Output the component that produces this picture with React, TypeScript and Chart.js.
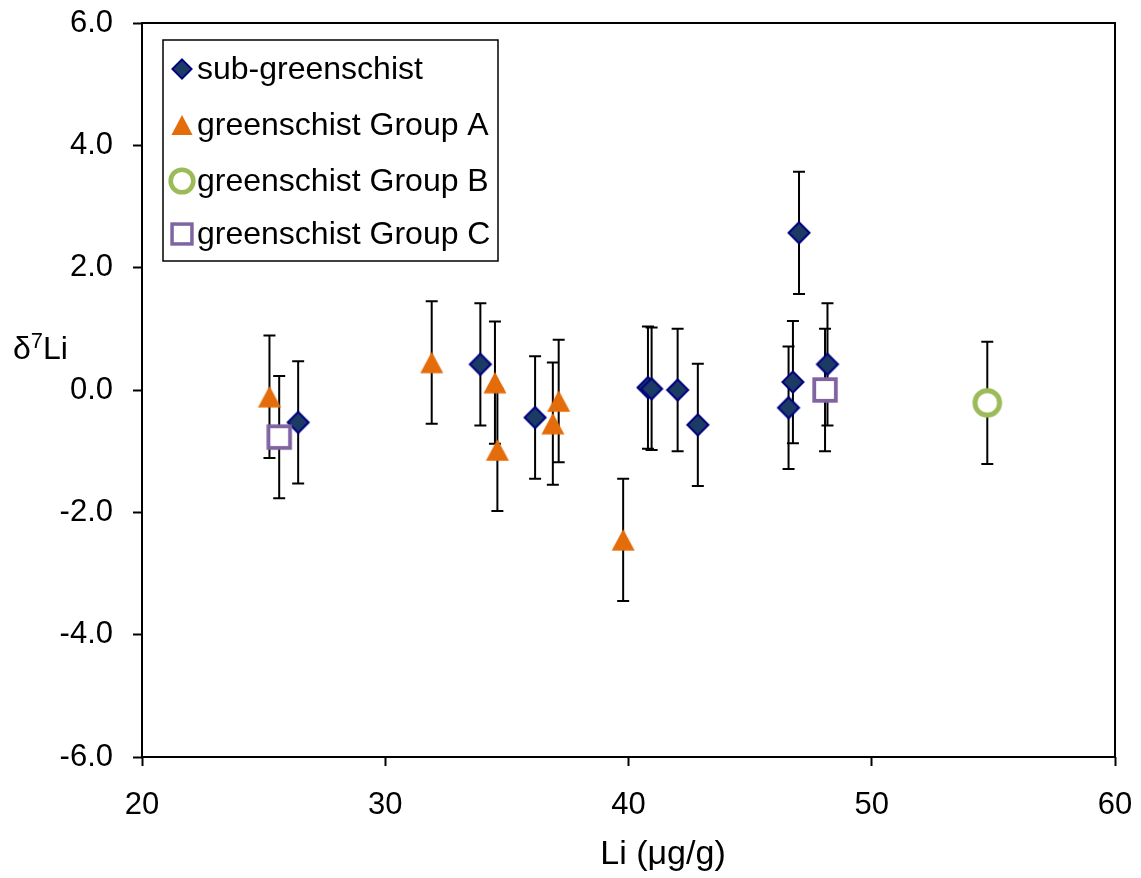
import React, { useEffect, useRef } from "react";
import { Chart, registerables } from "chart.js";

Chart.register(...registerables);

// ---- data ----
const subX = [26.42, 33.91, 36.16, 40.80, 40.95, 42.02, 42.85, 47.01, 46.76, 46.58, 48.18];
const subY = [-0.53, 0.42, -0.45, 0.04, 0.02, 0.0, -0.57, 2.57, 0.13, -0.29, 0.42];
const subErr = [1, 1, 1, 1, 1, 1, 1, 1, 1, 1, 1];

const grpAX = [25.24, 31.91, 34.51, 34.61, 36.89, 37.13, 39.78];
const grpAY = [-0.11, 0.45, 0.12, -0.98, -0.55, -0.18, -2.45];
const grpAErr = [1, 1, 1, 1, 1, 1, 1];

const grpBX = [54.75];
const grpBY = [-0.21];
const grpBErr = [1];

const grpCX = [25.64, 48.08];
const grpCY = [-0.77, 0.0];
const grpCErr = [1, 1];

const seriesLabels = ["sub-greenschist", "greenschist Group A", "greenschist Group B", "greenschist Group C"];
const xTickMin = 20;
const xTickMax = 60;
const xTickStep = 10;
const yTickMin = -6;
const yTickMax = 6;
const yTickStep = 2;
const xTitle = "Li (\u03bcg/g)";

const FONT = "'Liberation Sans', Arial, sans-serif";

type Kind = "diamond" | "triangle" | "circle" | "square";
const kinds: Kind[] = ["diamond", "triangle", "circle", "square"];

function drawMarker(ctx: CanvasRenderingContext2D, kind: Kind, cx: number, cy: number, s: number) {
  ctx.save();
  if (kind === "diamond") {
    const h = 10.5 * s;
    ctx.beginPath();
    ctx.moveTo(cx, cy - h);
    ctx.lineTo(cx + h, cy);
    ctx.lineTo(cx, cy + h);
    ctx.lineTo(cx - h, cy);
    ctx.closePath();
    ctx.fillStyle = "#1B3A64";
    ctx.fill();
    ctx.lineWidth = 2 * s;
    ctx.strokeStyle = "#000080";
    ctx.stroke();
  } else if (kind === "triangle") {
    const w = 11.5 * s;
    const h = 10.8 * s;
    ctx.beginPath();
    ctx.moveTo(cx, cy - h);
    ctx.lineTo(cx + w, cy + h);
    ctx.lineTo(cx - w, cy + h);
    ctx.closePath();
    ctx.fillStyle = "#E46C0A";
    ctx.fill();
  } else if (kind === "circle") {
    ctx.beginPath();
    ctx.arc(cx, cy, 12.3 * s, 0, Math.PI * 2);
    ctx.fillStyle = "#FFFFFF";
    ctx.fill();
    ctx.lineWidth = 5 * s;
    ctx.strokeStyle = "#9BBB59";
    ctx.stroke();
  } else {
    const h = 10.8 * s;
    ctx.fillStyle = "#FFFFFF";
    ctx.fillRect(cx - h, cy - h, 2 * h, 2 * h);
    ctx.lineWidth = 3.8 * s;
    ctx.strokeStyle = "#8064A2";
    ctx.strokeRect(cx - h, cy - h, 2 * h, 2 * h);
  }
  ctx.restore();
}

function makeMarkerCanvas(kind: Kind): HTMLCanvasElement {
  const c = document.createElement("canvas");
  c.width = 36;
  c.height = 36;
  const ctx = c.getContext("2d")!;
  drawMarker(ctx, kind, 18, 18, 1);
  return c;
}

const errorBarPlugin = {
  id: "errorBars",
  beforeDatasetsDraw(chart: any) {
    const ctx = chart.ctx;
    const xs = chart.scales.x;
    const ys = chart.scales.y;
    ctx.save();
    ctx.strokeStyle = "#000";
    ctx.lineWidth = 2;
    chart.data.datasets.forEach((ds: any) => {
      ds.data.forEach((p: any, i: number) => {
        const e = ds.errors[i];
        const px = xs.getPixelForValue(p.x);
        const top = ys.getPixelForValue(p.y + e);
        const bot = ys.getPixelForValue(p.y - e);
        ctx.beginPath();
        ctx.moveTo(px, top);
        ctx.lineTo(px, bot);
        ctx.moveTo(px - 6, top);
        ctx.lineTo(px + 6, top);
        ctx.moveTo(px - 6, bot);
        ctx.lineTo(px + 6, bot);
        ctx.stroke();
      });
    });
    ctx.restore();
  },
};

const framePlugin = {
  id: "frameAndText",
  afterDraw(chart: any) {
    const ctx = chart.ctx;
    const a = chart.chartArea;
    ctx.save();
    // plot frame
    ctx.strokeStyle = "#000";
    ctx.lineWidth = 2;
    ctx.strokeRect(a.left, a.top, a.right - a.left, a.bottom - a.top);

    // legend
    const lx = 163, ly = 40, lw = 335, lh = 221;
    ctx.fillStyle = "#fff";
    ctx.fillRect(lx, ly, lw, lh);
    ctx.lineWidth = 1.5;
    ctx.strokeRect(lx, ly, lw, lh);
    const rows = [69, 125, 181, 234];
    ctx.font = `32px ${FONT}`;
    ctx.textBaseline = "middle";
    ctx.textAlign = "left";
    chart.data.datasets.forEach((ds: any, i: number) => {
      drawMarker(ctx, kinds[i], 182, rows[i], 0.92);
      ctx.fillStyle = "#000";
      ctx.fillText(ds.label, 197, rows[i] + 1);
    });

    // x title
    ctx.font = `34px ${FONT}`;
    ctx.textAlign = "center";
    ctx.textBaseline = "alphabetic";
    ctx.fillStyle = "#000";
    ctx.fillText(xTitle, 663, 864);

    // y title: δ7Li with superscript
    ctx.textAlign = "left";
    ctx.font = `32px ${FONT}`;
    let x = 13;
    const base = 359;
    ctx.fillText("\u03b4", x, base);
    x += ctx.measureText("\u03b4").width;
    ctx.font = `22px ${FONT}`;
    ctx.fillText("7", x, base - 11);
    x += ctx.measureText("7").width;
    ctx.font = `32px ${FONT}`;
    ctx.fillText("Li", x, base);
    ctx.restore();
  },
};

export default function App() {
  const ref = useRef<HTMLCanvasElement | null>(null);

  useEffect(() => {
    if (!ref.current) return;
    const mk = (xs: number[], ys: number[]) => xs.map((x, i) => ({ x, y: ys[i] }));
    const datasets: any[] = [
      { label: seriesLabels[0], data: mk(subX, subY), errors: subErr, pointStyle: makeMarkerCanvas("diamond"), order: 4 },
      { label: seriesLabels[1], data: mk(grpAX, grpAY), errors: grpAErr, pointStyle: makeMarkerCanvas("triangle"), order: 3 },
      { label: seriesLabels[2], data: mk(grpBX, grpBY), errors: grpBErr, pointStyle: makeMarkerCanvas("circle"), order: 2 },
      { label: seriesLabels[3], data: mk(grpCX, grpCY), errors: grpCErr, pointStyle: makeMarkerCanvas("square"), order: 1 },
    ].map((d) => ({ ...d, showLine: false, pointRadius: 12, pointHoverRadius: 12 }));

    const chart = new Chart(ref.current, {
      type: "scatter",
      data: { datasets },
      options: {
        animation: false,
        responsive: true,
        maintainAspectRatio: false,
        layout: { padding: { top: 23, right: 26, left: 0, bottom: 0 } },
        plugins: { legend: { display: false }, tooltip: { enabled: false } },
        scales: {
          x: {
            type: "linear",
            min: xTickMin,
            max: xTickMax,
            afterFit: (s: any) => {
              s.height = 121;
              s.paddingLeft = 0;
              s.paddingRight = 0;
            },
            ticks: {
              stepSize: xTickStep,
              color: "#000",
              font: { family: FONT, size: 31 },
              padding: 21,
              maxRotation: 0,
            },
            grid: { display: true, drawOnChartArea: false, drawTicks: true, tickLength: 9, tickColor: "#000", tickWidth: 2 },
            border: { display: false },
          },
          y: {
            type: "linear",
            min: yTickMin,
            max: yTickMax,
            afterFit: (s: any) => {
              s.width = 142;
              s.paddingTop = 0;
              s.paddingBottom = 0;
            },
            ticks: {
              stepSize: yTickStep,
              color: "#000",
              font: { family: FONT, size: 31 },
              padding: 20,
              callback: (v: any) => Number(v).toFixed(1),
            },
            grid: { display: true, drawOnChartArea: false, drawTicks: true, tickLength: 9, tickColor: "#000", tickWidth: 2 },
            border: { display: false },
          },
        },
      },
      plugins: [errorBarPlugin, framePlugin],
    });
    return () => chart.destroy();
  }, []);

  return (
    <div style={{ position: "fixed", left: 0, top: 0, width: 1141, height: 878, background: "#fff" }}>
      <canvas ref={ref} />
    </div>
  );
}
